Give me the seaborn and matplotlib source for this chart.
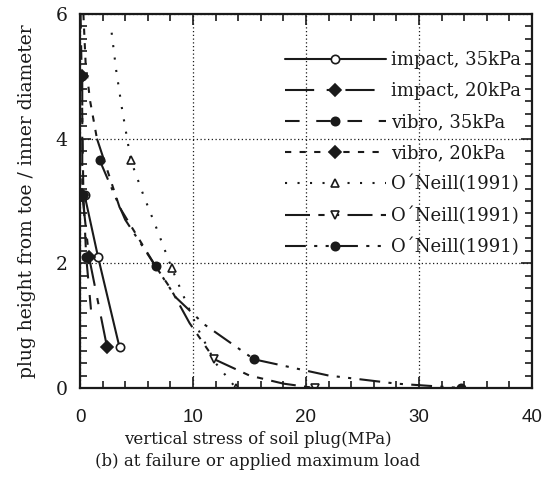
import matplotlib
matplotlib.use("Agg")
import matplotlib.pyplot as plt
import seaborn as sns
from matplotlib.ticker import MultipleLocator

sns.set_theme(style="white")
plt.rcParams['font.family'] = ['DejaVu Serif']
plt.rcParams.update({"text.color": "k", "axes.labelcolor": "k",
                     "xtick.color": "k", "ytick.color": "k"})

# ---- data ----
imp35_x = [0.4, 1.6, 3.5]
imp35_y = [3.1, 2.1, 0.65]

imp20_x = [0.2, 0.2, 0.8, 2.4]
imp20_y = [5.0, 3.1, 2.1, 0.65]

vib35_x = [0.05, 0.15, 0.3, 0.55, 1.0]
vib35_y = [6.0, 5.0, 3.1, 2.1, 1.2]

vib20_x = [0.3, 0.5, 0.9, 1.5]
vib20_y = [6.0, 5.2, 4.6, 4.0]

oneil_up_x = [2.8, 3.2, 3.7, 4.5, 5.6, 6.8, 8.1, 9.1, 10.4, 12.0, 13.8]
oneil_up_y = [5.7, 5.1, 4.5, 3.65, 3.1, 2.55, 1.93, 1.5, 0.96, 0.4, 0.0]
oneil_up_mark = [3, 6, 10]

oneil_dn_x = [1.5, 3.5, 6.7, 8.0, 9.7, 11.9, 15.0, 18.0, 20.8]
oneil_dn_y = [4.0, 2.9, 1.95, 1.6, 1.04, 0.46, 0.2, 0.07, 0.0]
oneil_dn_mark = [5, 8]

oneil_ci_x = [1.75, 4.0, 6.7, 8.5, 11.0, 15.4, 22.0, 28.0, 33.7]
oneil_ci_y = [3.65, 2.7, 1.95, 1.45, 1.02, 0.46, 0.2, 0.07, 0.0]
oneil_ci_mark = [0, 2, 5, 8]

labels = ["impact, 35kPa", "impact, 20kPa", "vibro, 35kPa", "vibro, 20kPa",
          "O\u00b4Neill(1991)", "O\u00b4Neill(1991)", "O\u00b4Neill(1991)"]

xticks = [0, 10, 20, 30, 40]
yticks = [0, 2, 4, 6]

fig = plt.figure(figsize=(5.47, 4.83), dpi=100)
ax = fig.add_axes([80/547, 1-388/483, 452/547, 374/483])

common = dict(color="k", lw=1.5, ms=6, markeredgecolor="k", markeredgewidth=1.2,
              sort=False, estimator=None, ax=ax)

sns.lineplot(x=imp35_x, y=imp35_y, marker="o", markerfacecolor="white",
             linestyle="-", label=labels[0], **common)
sns.lineplot(x=imp20_x, y=imp20_y, marker="D", markerfacecolor="k",
             linestyle=(0, (14, 6, 3, 6)), label=labels[1], **common)
sns.lineplot(x=vib35_x, y=vib35_y, marker="o", markerfacecolor="k",
             markevery=[1, 2, 3], linestyle=(0, (7, 8)), label=labels[2], **common)
sns.lineplot(x=vib20_x, y=vib20_y, marker="D", markerfacecolor="k",
             markevery=[], linestyle=(0, (3, 4)), label=labels[3], **common)
sns.lineplot(x=oneil_up_x, y=oneil_up_y, marker="^", markerfacecolor="white",
             markevery=oneil_up_mark, linestyle=(0, (1, 5)), label=labels[4], **common)
sns.lineplot(x=oneil_dn_x, y=oneil_dn_y, marker="v", markerfacecolor="white",
             markevery=oneil_dn_mark, linestyle=(0, (12, 4, 3, 4, 3, 4)), label=labels[5], **common)
sns.lineplot(x=oneil_ci_x, y=oneil_ci_y, marker="o", markerfacecolor="k",
             markevery=oneil_ci_mark, linestyle=(0, (10, 4, 1.5, 4, 1.5, 4)), label=labels[6], **common)

ax.set_xlim(0, 40)
ax.set_ylim(0, 6)
ax.set_xticks(xticks)
ax.set_yticks(yticks)
ax.xaxis.set_minor_locator(MultipleLocator(2))
ax.yaxis.set_minor_locator(MultipleLocator(0.2))
ax.tick_params(which="both", direction="in", top=True, right=True, bottom=True, left=True,
               color="k", width=1.2)
ax.tick_params(which="major", length=8)
ax.tick_params(which="minor", length=5)
ax.tick_params(axis="x", which="major", pad=15, labelsize=13.5)
ax.tick_params(axis="y", which="major", pad=9, labelsize=13.5)
for lab in ax.get_xticklabels():
    lab.set_fontfamily("Liberation Sans")
for sp in ax.spines.values():
    sp.set_color("k")
    sp.set_linewidth(1.6)

ax.grid(True, which="major", linestyle=(0, (1, 2)), color="k", lw=0.9)

ax.set_xlabel("vertical stress of soil plug(MPa)\n(b) at failure or applied maximum load",
              fontsize=12, labelpad=4, linespacing=1.35)
ax.xaxis.label.set_x((258 - 80) / 452)
ax.set_ylabel("plug height from toe / inner diameter", fontsize=13.5, labelpad=14)

ax.legend(loc="upper right", bbox_to_anchor=(1.0, 0.93), frameon=False,
          fontsize=13, handlelength=5.6, handletextpad=0.3,
          labelspacing=0.72, borderaxespad=0.2)

fig.savefig("out.png", dpi=100)
